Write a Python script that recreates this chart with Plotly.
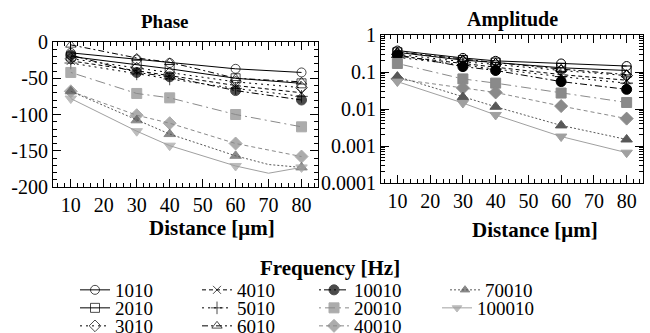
import plotly.graph_objects as go

# ---------------- data ----------------
frequencies = ["1010", "2010", "3010", "4010", "5010", "6010",
               "10010", "20010", "40010", "70010", "100010"]

dist = [10, 30, 40, 60, 80]
dist_ext = [10, 30, 40, 60, 70, 80]   # 70 is a line vertex without a marker

phase_1010 = [-15, -24, -29, -37, -42]
phase_2010 = [-20, -31, -37, -50, -57]
phase_3010 = [-23, -36, -43, -55, -63]
phase_4010 = [-26, -40, -47, -60, -70]
phase_5010 = [-29, -44, -51, -64, -75]
phase_6010 = [-4, -22, -28, -50, -55]
phase_10010 = [-18, -42, -48, -67, -80]
phase_20010 = [-42, -71, -77, -100, -117]
phase_40010 = [-68, -101, -112, -140, -158]
phase_70010 = [-68, -108, -127, -157, -169, -173]
phase_100010 = [-78, -123, -143, -171, -181, -173]

amp_1010 = [0.38, 0.24, 0.20, 0.17, 0.145]
amp_2010 = [0.34, 0.21, 0.18, 0.13, 0.11]
amp_3010 = [0.30, 0.19, 0.16, 0.11, 0.08]
amp_4010 = [0.27, 0.17, 0.14, 0.085, 0.06]
amp_5010 = [0.25, 0.15, 0.12, 0.075, 0.05]
amp_6010 = [0.35, 0.22, 0.18, 0.12, 0.085]
amp_10010 = [0.29, 0.14, 0.11, 0.055, 0.034]
amp_20010 = [0.17, 0.065, 0.05, 0.027, 0.015]
amp_40010 = [0.065, 0.037, 0.028, 0.012, 0.0055]
amp_70010 = [0.075, 0.021, 0.0115, 0.0036, 0.0015]
amp_100010 = [0.055, 0.0145, 0.0069, 0.0018, 0.00066]

phase_ticks = [0, -50, -100, -150, -200]
phase_ticktext = ["0", "-50", "-100", "-150", "-200"]
amp_ticks = [1, 0.1, 0.01, 0.001, 0.0001]
amp_ticktext = ["1", "0.1", "0.01", "0.001", "0.0001"]
dist_ticks = [10, 20, 30, 40, 50, 60, 70, 80]

# ---------------- styles ----------------
FONT = "Liberation Serif"
BLACK = "#000000"
G1 = "#8a8a8a"
G2 = "#585858"
G3 = "#a0a0a0"

styles = {
    "1010":   dict(color=BLACK, dash="solid", symbol="circle-open", size=9),
    "2010":   dict(color=BLACK, dash="solid", symbol="square-open", size=9),
    "3010":   dict(color=BLACK, dash="2px,4px", symbol="diamond-open", size=9),
    "4010":   dict(color=BLACK, dash="4px,3px", symbol="x-thin-open", size=8),
    "5010":   dict(color=BLACK, dash="2px,4px", symbol="cross-thin-open", size=9),
    "6010":   dict(color=BLACK, dash="6px,3px,2px,3px", symbol="triangle-up-open", size=9),
    "10010":  dict(color=BLACK, dash="2px,3px,7px,3px", symbol="circle", size=10),
    "20010":  dict(color=G1, dash="2px,4px,10px,4px", symbol="square", size=10),
    "40010":  dict(color=G1, dash="4px,3px", symbol="diamond", size=10),
    "70010":  dict(color=G2, dash="2px,2px", symbol="triangle-up", size=10),
    "100010": dict(color=G3, dash="solid", symbol="triangle-down", size=10),
}

phase_data = {
    "1010": (dist, phase_1010), "2010": (dist, phase_2010), "3010": (dist, phase_3010),
    "4010": (dist, phase_4010), "5010": (dist, phase_5010), "6010": (dist, phase_6010),
    "10010": (dist, phase_10010), "20010": (dist, phase_20010), "40010": (dist, phase_40010),
    "70010": (dist_ext, phase_70010), "100010": (dist_ext, phase_100010),
}
amp_data = {
    "1010": amp_1010, "2010": amp_2010, "3010": amp_3010, "4010": amp_4010,
    "5010": amp_5010, "6010": amp_6010, "10010": amp_10010, "20010": amp_20010,
    "40010": amp_40010, "70010": amp_70010, "100010": amp_100010,
}

# legend placement: (column x px, row y px)
legend_pos = {
    "1010": (75, 290), "2010": (75, 308), "3010": (75, 326),
    "4010": (197, 290), "5010": (197, 308), "6010": (197, 326),
    "10010": (314, 290), "20010": (314, 308), "40010": (314, 326),
    "70010": (445, 290), "100010": (437, 308),
}

W, H = 650, 333
fig = go.Figure()

for i, f in enumerate(frequencies):
    st = styles[f]
    xs, ys = phase_data[f]
    sizes = [0 if x not in dist else st["size"] for x in xs]
    lname = "legend" if i == 0 else f"legend{i+1}"
    line = dict(color=st["color"], width=1, dash=st["dash"])
    marker = dict(symbol=st["symbol"], size=sizes, color=st["color"],
                  line=dict(color=st["color"], width=1))
    fig.add_trace(go.Scatter(x=xs, y=ys, mode="lines+markers", name=f,
                             line=line, marker=marker, legend=lname,
                             xaxis="x", yaxis="y"))
    fig.add_trace(go.Scatter(x=dist, y=amp_data[f], mode="lines+markers", name=f,
                             line=line,
                             marker=dict(symbol=st["symbol"], size=st["size"], color=st["color"],
                                         line=dict(color=st["color"], width=1)),
                             showlegend=False, xaxis="x2", yaxis="y2"))

legends = {}
for i, f in enumerate(frequencies):
    lname = "legend" if i == 0 else f"legend{i+1}"
    px, py = legend_pos[f]
    legends[lname] = dict(x=px / W, y=1 - py / H, xanchor="left", yanchor="middle",
                          bgcolor="rgba(0,0,0,0)", borderwidth=0,
                          font=dict(family=FONT, size=19, color="black"),
                          itemwidth=30, tracegroupgap=0)

tickfont = dict(family=FONT, size=20, color="black")
axis_common = dict(showline=True, linecolor="black", linewidth=1, mirror="allticks",
                   ticks="inside", ticklen=8, tickwidth=1, tickcolor="black",
                   showgrid=False, zeroline=False, tickfont=tickfont, automargin=False)

fig.update_layout(
    width=W, height=H,
    margin=dict(l=0, r=0, t=0, b=0, autoexpand=False),
    paper_bgcolor="white", plot_bgcolor="white",
    font=dict(family=FONT, size=19, color="black"),
    xaxis=dict(domain=[53 / W, 318 / W], range=[4.6, 85], anchor="y",
               tickvals=dist_ticks,
               minor=dict(ticks="inside", ticklen=4, dtick=2, tick0=0, tickcolor="black"),
               **axis_common),
    yaxis=dict(domain=[1 - 187 / H, 1 - 42 / H], range=[-200, 0], anchor="x",
               tickvals=phase_ticks, ticktext=phase_ticktext,
               minor=dict(ticks="inside", ticklen=4, dtick=10, tick0=0, tickcolor="black"),
               **axis_common),
    xaxis2=dict(domain=[381 / W, 643 / W], range=[5, 85], anchor="y2",
                tickvals=dist_ticks,
                minor=dict(ticks="inside", ticklen=4, dtick=2, tick0=0, tickcolor="black"),
                **axis_common),
    yaxis2=dict(domain=[1 - 183 / H, 1 - 35 / H], type="log", range=[-4, 0], anchor="x2",
                tickvals=amp_ticks, ticktext=amp_ticktext,
                minor=dict(ticks="inside", ticklen=4, dtick="D1", tickcolor="black"),
                **axis_common),
    showlegend=True,
    **legends,
)

def label(text, xpx, ypx, size=20):
    fig.add_annotation(text=f"<b>{text}</b>", x=xpx / W, y=1 - ypx / H,
                       xref="paper", yref="paper", xanchor="center", yanchor="middle",
                       showarrow=False, font=dict(family=FONT, size=size, color="black"))

label("Phase", 165, 22, 19)
label("Amplitude", 512, 19, 20)
label("Distance [μm]", 212, 228, 21)
label("Distance [μm]", 535, 230, 21)
label("Frequency [Hz]", 330, 268, 21)

fig.write_html("out.html")
